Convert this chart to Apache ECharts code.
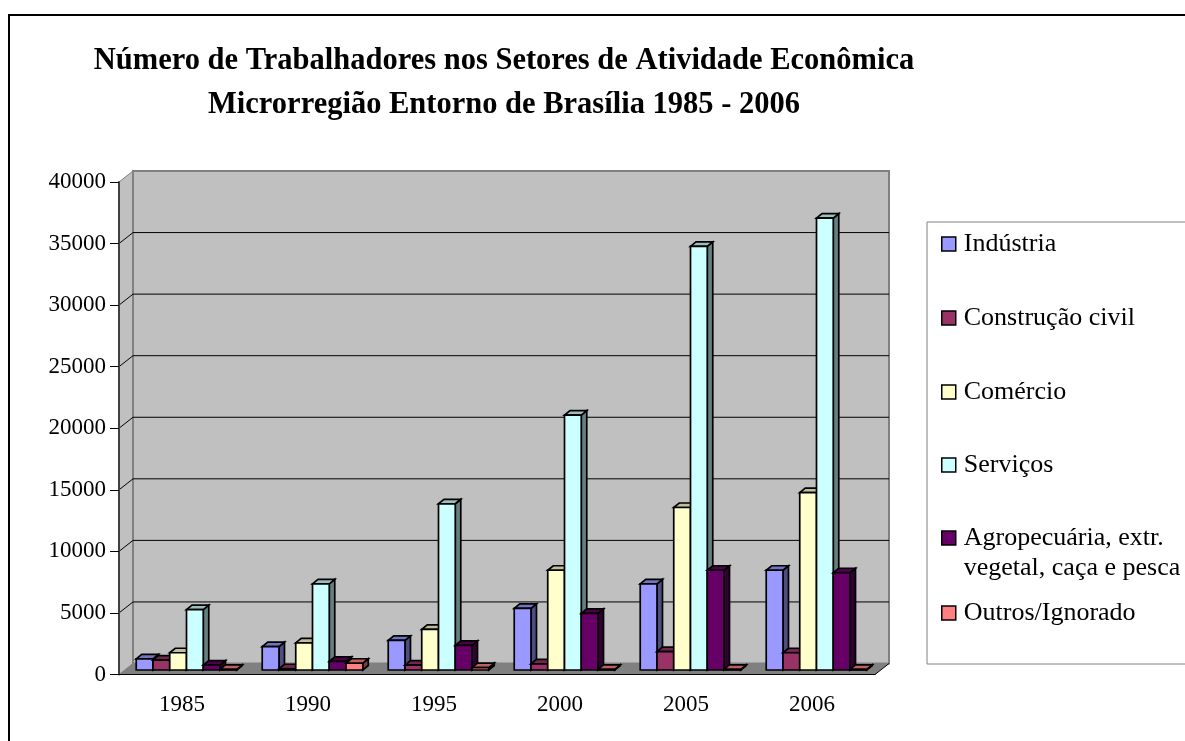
<!DOCTYPE html>
<html>
<head>
<meta charset="utf-8">
<title>Trabalhadores</title>
<script src="https://cdn.jsdelivr.net/npm/echarts@6/dist/echarts.min.js"></script>
<style>
  html, body { margin: 0; padding: 0; background: #fff; }
  #container { width: 1185px; height: 741px; }
</style>
</head>
<body>
<div id="container"></div>
<script>
var years = ['1985', '1990', '1995', '2000', '2005', '2006'];
var industria = [900, 1900, 2400, 5000, 7000, 8100];
var construcao = [800, 100, 400, 500, 1500, 1400];
var comercio = [1400, 2200, 3300, 8100, 13200, 14400];
var servicos = [4900, 7000, 13500, 20700, 34400, 36700];
var agropecuaria = [400, 700, 2000, 4600, 8100, 7900];
var outros = [50, 550, 200, 50, 50, 50];

var names = ['Indústria', 'Construção civil', 'Comércio', 'Serviços',
  'Agropecuária, extr.\nvegetal, caça e pesca', 'Outros/Ignorado'];
var values = [industria, construcao, comercio, servicos, agropecuaria, outros];
var colors = ['#9999ff', '#993366', '#ffffcc', '#ccffff', '#660066', '#ff8080'];
var legendTops = [229, 303, 377, 450, 493, 598];

// depth of the chart box and of the bars, in pixels
var wallDx = 14, wallDy = -11;
var barDx = 4.5, barDy = -4.5, depthDx = 5.5, depthDy = -4.5;
var barShare = 0.133;

var dom = document.getElementById('container');
var myChart = echarts.init(dom, null, { renderer: 'canvas' });

function shade(hex, k) {
  var c = echarts.color.parse(hex);
  return 'rgb(' + Math.round(c[0] * k) + ',' + Math.round(c[1] * k) + ',' + Math.round(c[2] * k) + ')';
}

function poly(points, fill, stroke, lineWidth) {
  return {
    type: 'polygon',
    shape: { points: points },
    style: { fill: fill, stroke: stroke, lineWidth: lineWidth || 0 }
  };
}

function renderWalls(params, api) {
  var bottom = api.coord([0, 0])[1];
  var top = api.coord([0, 40000])[1];
  var band = api.size([1, 0])[0];
  var x0 = api.coord([0, 0])[0] - band / 2;
  var x1 = x0 + band * years.length;
  var grey = '#808080';
  var children = [
    poly([[x0, bottom], [x0 + wallDx, bottom + wallDy], [x0 + wallDx, top + wallDy], [x0, top]], '#c0c0c0', grey, 1),
    poly([[x0 + wallDx, top + wallDy], [x1 + wallDx, top + wallDy], [x1 + wallDx, bottom + wallDy], [x0 + wallDx, bottom + wallDy]], '#c0c0c0', grey, 2),
    poly([[x0, bottom], [x1, bottom], [x1 + wallDx, bottom + wallDy], [x0 + wallDx, bottom + wallDy]], grey, grey, 0)
  ];
  for (var v = 5000; v < 40000; v += 5000) {
    var y = api.coord([0, v])[1];
    children.push({
      type: 'polyline',
      shape: { points: [[x0, y], [x0 + wallDx, y + wallDy], [x1 + wallDx, y + wallDy]] },
      style: { fill: null, stroke: '#000', lineWidth: 1 }
    });
  }
  children.push({
    type: 'line',
    shape: { x1: x1, y1: bottom, x2: x1 + wallDx, y2: bottom + wallDy },
    style: { stroke: '#000', lineWidth: 1 }
  });
  return { type: 'group', children: children };
}

function barRenderer(seriesIndex) {
  return function (params, api) {
    var p = api.coord([api.value(0), api.value(1)]);
    var base = api.coord([api.value(0), 0])[1] + barDy;
    var band = api.size([1, 0])[0];
    var w = band * barShare;
    var x = p[0] - 3 * w + seriesIndex * w + barDx;
    var y = p[1] + barDy;
    var color = colors[seriesIndex];
    return {
      type: 'group',
      children: [
        poly([[x + w, y], [x + w + depthDx, y + depthDy], [x + w + depthDx, base + depthDy], [x + w, base]], shade(color, 0.5), '#000', 1.7),
        poly([[x, y], [x + depthDx, y + depthDy], [x + w + depthDx, y + depthDy], [x + w, y]], shade(color, 0.75), '#000', 1.7),
        poly([[x, y], [x + w, y], [x + w, base], [x, base]], color, '#000', 1.7)
      ]
    };
  };
}

var barSeries = names.map(function (name, s) {
  return {
    type: 'custom',
    name: name,
    renderItem: barRenderer(s),
    itemStyle: { color: colors[s] },
    encode: { x: 0, y: 1 },
    data: values[s].map(function (v, i) { return [i, v]; }),
    z: 3
  };
});

var legends = names.map(function (name, s) {
  return {
    data: [name],
    orient: 'vertical',
    left: 941,
    top: legendTops[s],
    padding: 0,
    itemWidth: 20,
    itemHeight: 14,
    itemGap: 0,
    icon: 'path://M0,0H10V10H0Z',
    selectedMode: false,
    itemStyle: { borderColor: '#000', borderWidth: 1.5 },
    // two line entry: a blank first line keeps the swatch level with the first text line
    formatter: function (n) { return n.indexOf('\n') >= 0 ? '\n' + n : n; },
    textStyle: { fontFamily: 'Liberation Serif', fontSize: 26, lineHeight: 30, color: '#000' }
  };
});

var option = {
  animation: false,
  backgroundColor: '#fff',
  title: {
    text: 'Número de Trabalhadores nos Setores de Atividade Econômica\nMicrorregião Entorno de Brasília 1985 - 2006',
    left: 499,
    top: 34,
    textAlign: 'center',
    textStyle: {
      fontFamily: 'Liberation Serif',
      fontSize: 30.5,
      fontWeight: 'bold',
      lineHeight: 44,
      color: '#000'
    }
  },
  legend: legends,
  graphic: [
    { type: 'polyline', silent: true, z: -1, shape: { points: [[9, 741], [9, 15], [1185, 15]] },
      style: { fill: null, stroke: '#000', lineWidth: 2 } },
    { type: 'rect', silent: true, z: -1, shape: { x: 927, y: 222, width: 300, height: 442 },
      style: { fill: '#fff', stroke: '#808080', lineWidth: 1 } }
  ],
  grid: { left: 119, top: 182, width: 756, height: 492.5 },
  xAxis: {
    type: 'category',
    data: years,
    axisLine: { lineStyle: { color: '#000', width: 1 } },
    axisTick: { length: 9, lineStyle: { color: '#000' } },
    axisLabel: { fontFamily: 'Liberation Serif', fontSize: 23, color: '#000', margin: 19 },
    z: 4
  },
  yAxis: {
    type: 'value',
    min: 0,
    max: 40000,
    interval: 5000,
    splitLine: { show: false },
    axisLine: { show: true, lineStyle: { color: '#404040', width: 2 } },
    axisTick: { show: true, length: 9, lineStyle: { color: '#000' } },
    axisLabel: {
      fontFamily: 'Liberation Serif',
      fontSize: 23,
      color: '#000',
      margin: 13,
      formatter: function (v) { return String(v); }
    },
    z: 4
  },
  series: [{
    type: 'custom',
    name: 'walls',
    silent: true,
    renderItem: renderWalls,
    encode: { x: 0, y: 1 },
    data: [[0, 0]],
    z: 1
  }].concat(barSeries)
};

myChart.setOption(option);

window.addEventListener('resize', function () {
  myChart.resize();
});
</script>
</body>
</html>
